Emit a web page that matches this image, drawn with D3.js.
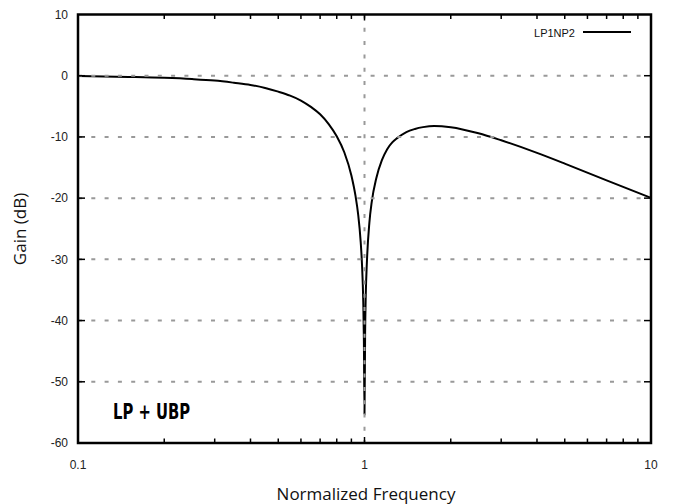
<!DOCTYPE html>
<html>
<head>
<meta charset="utf-8">
<script src="https://cdn.jsdelivr.net/npm/d3@7"></script>
<style>
  html, body { margin: 0; padding: 0; background: #fff; }
  svg { display: block; }
</style>
</head>
<body>
<svg id="chart" width="673" height="504"></svg>
<script>
// ---- data ----
const freq = [0.1, 0.15, 0.2, 0.25, 0.3, 0.35, 0.4, 0.45, 0.5, 0.55, 0.6, 0.65, 0.7, 0.75, 0.8, 0.85, 0.9, 0.93, 0.95, 0.97, 0.98, 0.99, 0.995, 1.0,
              1.005, 1.01, 1.02, 1.04, 1.06, 1.1, 1.15, 1.2, 1.25, 1.3, 1.4, 1.5, 1.6, 1.75, 2.0, 2.5, 3, 4, 5, 7, 10];
const gain = [-0.05, -0.2, -0.35, -0.55, -0.8, -1.15, -1.5, -2.0, -2.6, -3.25, -4.05, -5.1, -6.3, -7.9, -9.9, -12.5, -16.3, -19.6, -22.6, -27.2, -30.8, -36.9, -43.0, -55.3,
              -42.0, -36.0, -30.2, -24.0, -20.6, -16.7, -13.8, -12.0, -10.9, -10.2, -9.2, -8.7, -8.4, -8.2, -8.4, -9.4, -10.55, -12.6, -14.35, -17.1, -19.95];
const yTicks = [10, 0, -10, -20, -30, -40, -50, -60];
const yGrid = [0, -10, -20, -30, -40, -50];
const xTickLabels = [0.1, 1, 10];
const xMinor = [0.2, 0.3, 0.4, 0.5, 0.6, 0.7, 0.8, 0.9, 2, 3, 4, 5, 6, 7, 8, 9];
const xGrid = [1];
const seriesName = "LP1NP2";
const annotation = "LP + UBP";

const svg = d3.select("#chart");
const L = 78, R = 651, T = 14.5, B = 443;

const x = d3.scaleLog().domain([0.1, 10]).range([L, R]);
const y = d3.scaleLinear().domain([-60, 10]).range([B, T]);

const data = freq.map((f, i) => ({ f, g: gain[i] }));

// curve
const line = d3.line().x(d => x(d.f)).y(d => y(d.g)).curve(d3.curveMonotoneX);
svg.append("path").datum(data)
  .attr("d", line)
  .attr("fill", "none")
  .attr("stroke", "#000")
  .attr("stroke-width", 2);

// grid
const grid = svg.append("g").attr("stroke", "#999").attr("stroke-width", 2).attr("stroke-dasharray", "4,9.3");
grid.selectAll("line.h").data(yGrid).join("line")
  .attr("x1", L).attr("x2", R)
  .attr("y1", d => y(d)).attr("y2", d => y(d));
grid.selectAll("line.v").data(xGrid).join("line")
  .attr("x1", d => x(d)).attr("x2", d => x(d))
  .attr("y1", T).attr("y2", B);

// ticks
const ticks = svg.append("g").attr("stroke", "#000").attr("stroke-width", 1.5);
const allX = xMinor.concat([1]);
ticks.selectAll("line.b").data(allX).join("line")
  .attr("x1", d => x(d)).attr("x2", d => x(d))
  .attr("y1", B).attr("y2", d => B - (d === 1 ? 6 : 4.5));
ticks.selectAll("line.t").data(allX).join("line")
  .attr("x1", d => x(d)).attr("x2", d => x(d))
  .attr("y1", T).attr("y2", d => T + (d === 1 ? 6 : 4.5));
ticks.selectAll("line.l").data(yGrid).join("line")
  .attr("x1", L).attr("x2", L + 7)
  .attr("y1", d => y(d)).attr("y2", d => y(d));
ticks.selectAll("line.r").data(yGrid).join("line")
  .attr("x1", R).attr("x2", R - 7)
  .attr("y1", d => y(d)).attr("y2", d => y(d));

// frame
svg.append("rect")
  .attr("x", L).attr("y", T).attr("width", R - L).attr("height", B - T)
  .attr("fill", "none").attr("stroke", "#000").attr("stroke-width", 2.5);

// tick labels
const font = "'Liberation Sans', Arial, sans-serif";
svg.append("g").selectAll("text").data(yTicks).join("text")
  .attr("x", 68).attr("y", d => y(d))
  .attr("dy", "0.36em")
  .attr("text-anchor", "end")
  .attr("font-family", font).attr("font-size", 12)
  .attr("fill", "#222")
  .text(d => d);
svg.append("g").selectAll("text").data(xTickLabels).join("text")
  .attr("x", d => x(d)).attr("y", 465)
  .attr("dy", "0.36em")
  .attr("text-anchor", "middle")
  .attr("font-family", font).attr("font-size", 12)
  .attr("fill", "#222")
  .text(d => d);

// axis titles
svg.append("text")
  .attr("x", 366).attr("y", 500)
  .attr("text-anchor", "middle")
  .attr("font-family", "'Open Sans', sans-serif").attr("font-size", 17)
  .attr("fill", "#111")
  .text("Normalized Frequency");
svg.append("text")
  .attr("transform", "translate(26,229) rotate(-90)")
  .attr("text-anchor", "middle")
  .attr("font-family", "'Open Sans', sans-serif").attr("font-size", 17)
  .attr("fill", "#111")
  .text("Gain (dB)");

// legend
svg.append("text")
  .attr("x", 575).attr("y", 33)
  .attr("dy", "0.36em")
  .attr("text-anchor", "end")
  .attr("font-family", font).attr("font-size", 11)
  .attr("fill", "#111")
  .text(seriesName);
svg.append("line")
  .attr("x1", 583).attr("x2", 631).attr("y1", 32).attr("y2", 32)
  .attr("stroke", "#000").attr("stroke-width", 2);

// annotation
svg.append("text")
  .attr("x", 113).attr("y", 419)
  .attr("font-family", "'DejaVu Sans', sans-serif")
  .attr("font-stretch", "condensed")
  .attr("font-weight", "bold").attr("font-size", 21)
  .attr("textLength", 77).attr("lengthAdjust", "spacingAndGlyphs")
  .attr("fill", "#000")
  .text(annotation);
</script>
</body>
</html>
